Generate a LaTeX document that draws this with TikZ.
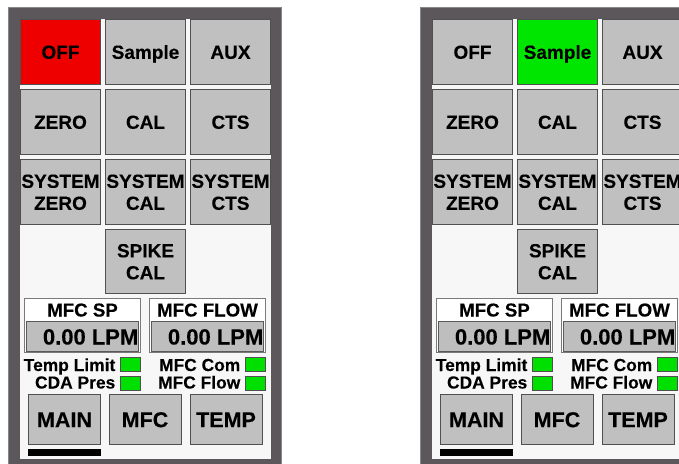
\documentclass[tikz,border=0pt]{standalone}
\usepackage{fontspec}
\setmainfont{Liberation Sans}[BoldFeatures={FakeBold=0.2}]
\definecolor{framegray}{HTML}{5C575A}
\definecolor{frameedge}{HTML}{8A8588}
\definecolor{panelbg}{HTML}{F7F7F7}
\definecolor{btnfill}{HTML}{C0C0C0}
\definecolor{btnedge}{HTML}{505050}
\definecolor{offred}{HTML}{EE0000}
\definecolor{runGreen}{HTML}{00E600}
\definecolor{ledgreen}{HTML}{00E000}
\definecolor{boxedge}{HTML}{7A7A7A}
\definecolor{fieldfill}{HTML}{BEBEBE}
\definecolor{fieldedge}{HTML}{5A5A5A}
\tikzset{
  btn/.style={draw=btnedge, fill=btnfill, line width=1pt, minimum width=80pt,
    minimum height=65pt, inner sep=0pt, align=center,
    text height=13.6pt, text depth=0pt,
    font=\fontsize{19}{22}\selectfont\bfseries},
  twoline/.style={text height=35.6pt, text depth=0pt},
  navbtn/.style={btn, minimum width=72pt, minimum height=50pt,
    text height=15.4pt, text depth=0pt,
    font=\fontsize{21.5}{24}\selectfont\bfseries},
  readout/.style={draw=boxedge, fill=white, line width=1pt, minimum width=116pt,
    minimum height=54pt, inner sep=0pt},
  readhead/.style={inner sep=0pt, anchor=base, font=\fontsize{18.7}{20}\selectfont\bfseries},
  field/.style={draw=fieldedge, fill=fieldfill, line width=1.5pt, minimum width=112pt,
    minimum height=30pt, inner sep=0pt},
  fieldval/.style={inner sep=0pt, anchor=base east, font=\fontsize{22}{24}\selectfont\bfseries},
  ledlabel/.style={inner sep=0pt, anchor=base east, font=\fontsize{17.4}{19}\selectfont\bfseries},
  led/.style={draw=btnedge, fill=ledgreen, line width=0.8pt, minimum width=20pt,
    minimum height=14pt, inner sep=0pt},
}
% One operator panel: #1 horizontal offset, #2 OFF fill, #3 Sample fill, #4 name prefix
\newcommand\hmipanel[4]{%
\begin{scope}[xshift=#1pt, name prefix=#4]
  \fill[framegray] (8.5,7) rectangle (281,475);
  \draw[frameedge, line width=0.8pt] (8.5,475) -- (8.5,7) -- (281,7) -- (281,475);
  \fill[panelbg] (20,19) rectangle (271,459);
  % mode buttons
  \node[btn, fill=#2] (off) at (60.5,52) {OFF};
  \node[btn, fill=#3] (sample) at (145.5,52) {Sample};
  \node[btn] (aux) at (230.5,52) {AUX};
  \node[btn] (zero) at (60.5,122) {ZERO};
  \node[btn] (cal) at (145.5,122) {CAL};
  \node[btn] (cts) at (230.5,122) {CTS};
  \node[btn, twoline] (szero) at (60.5,192) {SYSTEM\\ZERO};
  \node[btn, twoline] (scal) at (145.5,192) {SYSTEM\\CAL};
  \node[btn, twoline] (scts) at (230.5,192) {SYSTEM\\CTS};
  \node[btn, twoline, minimum height=64pt] (spike) at (145.5,261.5) {SPIKE\\CAL};
  % flow readouts
  \node[readout] (sp) at (82.5,325.5) {};
  \node[readhead] (sphead) at (82.5,316.5) {MFC SP};
  \node[field] (spfield) at (82.5,336.5) {};
  \node[fieldval] (spval) at (138.5,344.5) {0.00 LPM};
  \node[readout] (fl) at (207.5,325.5) {};
  \node[readhead] (flhead) at (207.5,316.5) {MFC FLOW};
  \node[field] (flfield) at (207.5,336.5) {};
  \node[fieldval] (flval) at (263.5,344.5) {0.00 LPM};
  % status lamps
  \node[ledlabel] (tl) at (115.5,371) {Temp Limit};
  \node[led] (tlled) at (130.5,364.5) {};
  \node[ledlabel] (cda) at (115.5,388.5) {CDA Pres};
  \node[led] (cdaled) at (130.5,383) {};
  \node[ledlabel] (com) at (240.5,371) {MFC Com};
  \node[led] (comled) at (255.5,364.5) {};
  \node[ledlabel] (mfl) at (240.5,388.5) {MFC Flow};
  \node[led] (mflled) at (255.5,383) {};
  % navigation
  \node[navbtn] (main) at (64.5,419.5) {MAIN};
  \node[navbtn] (mfc) at (145,419.5) {MFC};
  \node[navbtn] (temp) at (226,419.5) {TEMP};
  \fill[black] (28,449) rectangle (101,456);
\end{scope}}
\begin{document}
\begin{tikzpicture}[x=1pt, y=-1pt]
  \useasboundingbox (0,0) rectangle (679,463);
  \clip (0,0) rectangle (679,463);
  \fill[white] (0,0) rectangle (679,463);
  \hmipanel{0}{offred}{btnfill}{L-}
  \hmipanel{412}{btnfill}{runGreen}{R-}
\end{tikzpicture}
\end{document}
